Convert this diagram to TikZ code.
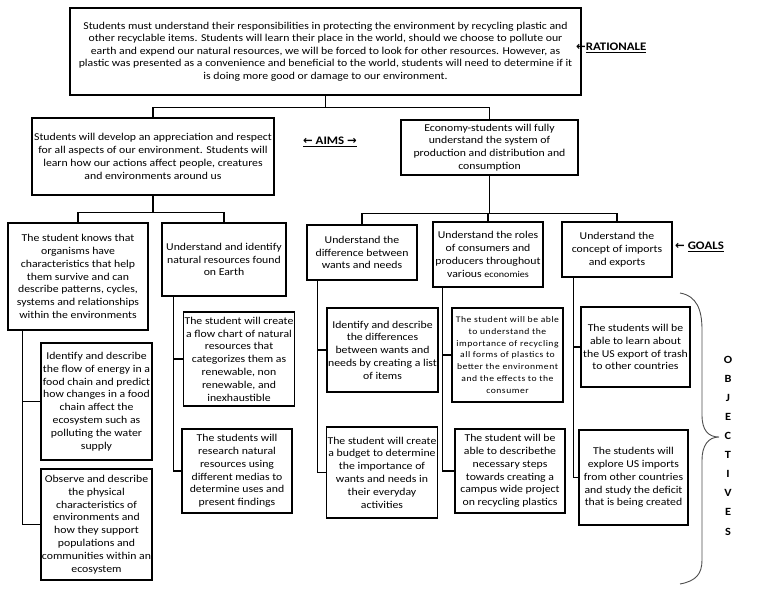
\documentclass[tikz,border=0pt]{standalone}
\usepackage{fontspec}
\setmainfont{Carlito}[FakeStretch=1.12]
\newfontfamily\arrfont{DejaVu Sans}
\begin{document}
\begin{tikzpicture}[x=1pt,y=-1pt,
  box/.style={draw, line width=1.5pt, align=center, inner sep=1pt,
    font=\fontsize{10.5}{12.8}\selectfont},
  conn/.style={line width=1.3pt},
  lbl/.style={font=\fontsize{11.5}{13}\selectfont\bfseries, inner sep=0pt}]
\useasboundingbox (0,0) rectangle (768,594);
% top
\node[box, minimum width=511, minimum height=87, font=\fontsize{10.5}{12.5}\selectfont] (top) at (325.5,51.5)
 {Students must understand their responsibilities in protecting the environment by recycling plastic and\\
  other recyclable items. Students will learn their place in the world, should we choose to pollute our\\
  earth and expend our natural resources, we will be forced to look for other resources. However, as\\
  plastic was presented as a convenience and beneficial to the world, students will need to determine if it\\
  is doing more good or damage to our environment.};
\node[lbl, anchor=west] (rat) at (576,48) {{\arrfont ←}\underline{RATIONALE}};
% aims
\node[box, minimum width=242, minimum height=77] (aimL) at (153,156.5)
 {Students will develop an appreciation and respect\\
  for all aspects of our environment. Students will\\
  learn how our actions affect people, creatures\\
  and environments around us};
\node[box, minimum width=177, minimum height=55] (aimR) at (489.5,147.5)
 {Economy-students will fully\\understand the system of\\production and distribution and\\consumption};
\node[lbl] (aims) at (330,142) {\underline{{\arrfont ←} AIMS {\arrfont →}}};
% goals
\node[box, minimum width=140, minimum height=107] (g1) at (78,276.5)
 {The student knows that\\organisms have\\characteristics that help\\them survive and can\\describe patterns, cycles,\\systems and relationships\\within the environments};
\node[box, minimum width=124, minimum height=73] (g2) at (224,259.5)
 {Understand and identify\\natural resources found\\on Earth};
\node[box, minimum width=110, minimum height=55] (g3) at (362,252.5)
 {Understand the\\difference between\\wants and needs};
\node[box, minimum width=110, minimum height=65] (g4) at (488,254.5)
 {Understand the roles\\of consumers and\\producers throughout\\various {\fontsize{9}{12}\selectfont economies}};
\node[box, minimum width=110, minimum height=55] (g5) at (617,249.5)
 {Understand the\\concept of imports\\and exports};
\node[lbl, anchor=west] (goals) at (675,247) {{\arrfont ←} \underline{GOALS}};
% objectives
\node[box, minimum width=111, minimum height=117] (o1a) at (96.5,401.5)
 {Identify and describe\\the flow of energy in a\\food chain and predict\\how changes in a food\\chain affect the\\ecosystem such as\\polluting the water\\supply};
\node[box, minimum width=111, minimum height=111] (o1b) at (96.5,524.5)
 {Observe and describe\\the physical\\characteristics of\\environments and\\how they support\\populations and\\communities within an\\ecosystem};
\node[box, minimum width=110, minimum height=94] (o2a) at (239,359)
 {The student will create\\a flow chart of natural\\resources that\\categorizes them as\\renewable, non\\renewable, and\\inexhaustible};
\node[box, minimum width=110, minimum height=84] (o2b) at (237,471)
 {The students will\\research natural\\resources using\\different medias to\\determine uses and\\present findings};
\node[box, minimum width=111, minimum height=84] (o3a) at (382.5,350)
 {Identify and describe\\the differences\\between wants and\\needs by creating a list\\of items};
\node[box, minimum width=110, minimum height=91] (o3b) at (382,472.5)
 {The student will create\\a budget to determine\\the importance of\\wants and needs in\\their everyday\\activities};
\node[box, minimum width=111, minimum height=94, font=\fontsize{8.6}{11.7}\selectfont\addfontfeature{LetterSpace=6}] (o4a) at (507.5,355)
 {The student will be able\\to understand the\\importance of recycling\\all forms of plastics to\\better the environment\\and the effects to the\\consumer};
\node[box, minimum width=110, minimum height=84] (o4b) at (510,471)
 {The student will be\\able to describethe\\necessary steps\\towards creating a\\campus wide project\\on recycling plastics};
\node[box, minimum width=109, minimum height=80] (o5a) at (635.5,347)
 {The students will be\\able to learn about\\the US export of trash\\to other countries};
\node[box, minimum width=109, minimum height=95] (o5b) at (633.5,477.5)
 {The students will\\explore US imports\\from other countries\\and study the deficit\\that is being created};
% connectors top -> aims
\coordinate (j0) at ([yshift=-12]top.south);
\draw[conn] (top.south) -- (j0) -| (aimL.north);
\draw[conn] (j0) -| (aimR.north);
% aims -> goals
\coordinate (j1) at ([yshift=-17]aimL.south);
\draw[conn] (aimL.south) -- (j1) -| (g1.north);
\draw[conn] (j1) -| (g2.north);
\coordinate (j2) at ([yshift=-38]aimR.south);
\draw[conn] (aimR.south) -- (j2) -| (g3.north);
\draw[conn] (j2) -| (g5.north);
\draw[conn] (j2 -| g4.north) -- (g4.north);
% spines
\coordinate (s1) at ([xshift=15]g1.south west);
\draw[conn] (s1) |- (o1b.west);
\draw[conn] (s1 |- o1a.west) -- (o1a.west);
\coordinate (s2) at ([xshift=12]g2.south west);
\draw[conn] (s2) |- (o2b.west);
\draw[conn] (s2 |- o2a.west) -- (o2a.west);
\coordinate (s3) at ([xshift=11]g3.south west);
\draw[conn] (s3) |- (o3b.west);
\draw[conn] (s3 |- o3a.west) -- (o3a.west);
\coordinate (s4) at ([xshift=10]g4.south west);
\draw[conn] (s4) |- (o4b.west);
\draw[conn] (s4 |- o4a.west) -- (o4a.west);
\coordinate (s5) at ([xshift=12]g5.south west);
\draw[conn] (s5) |- (o5b.west);
\draw[conn] (s5 |- o5a.west) -- (o5a.west);
% brace
\draw[line width=0.9pt, draw=black!70] (680,293) .. controls (697,296) and (702,310) .. (702,330)
  -- (702,415) .. controls (702,430) and (708,437) .. (719,437)
  .. controls (708,437) and (702,446) .. (702,460)
  -- (702,560) .. controls (702,574) and (696,581) .. (680,584);
\node[font=\fontsize{11}{19.1}\selectfont\bfseries, align=center, inner sep=0pt] (obj) at (728,445.5)
 {O\\B\\J\\E\\C\\T\\I\\V\\E\\S};
\end{tikzpicture}
\end{document}
